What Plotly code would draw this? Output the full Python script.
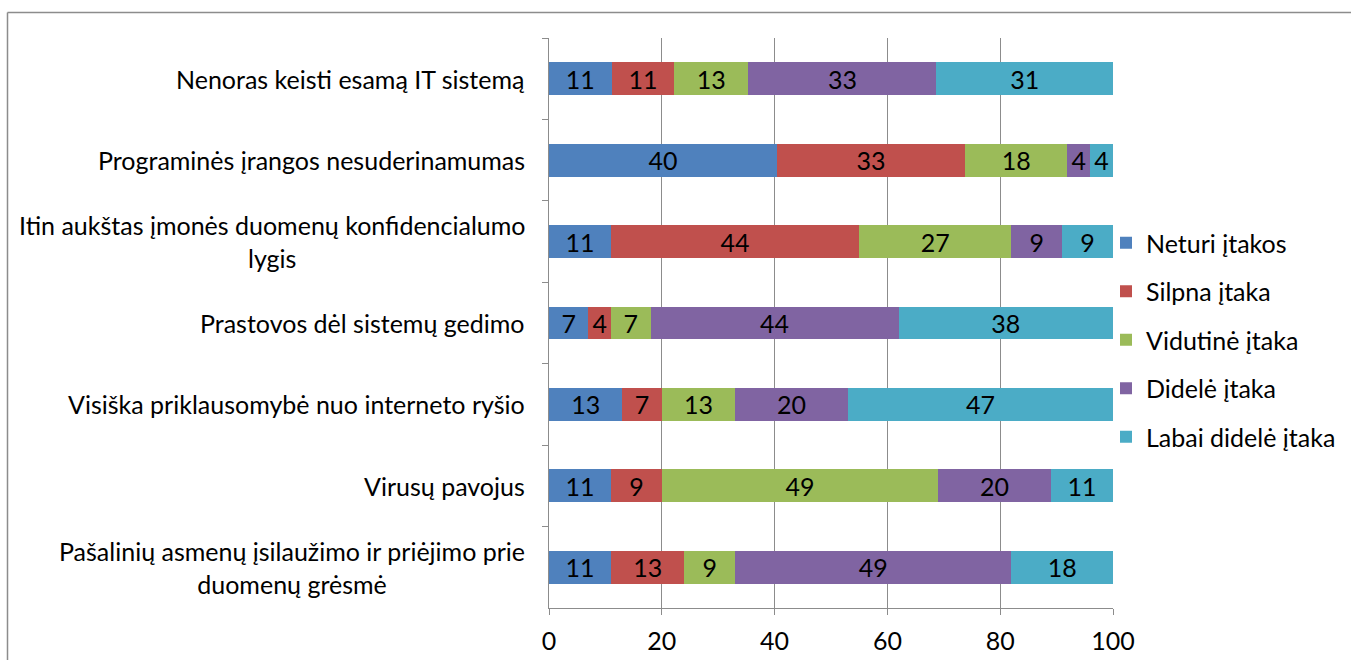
import plotly.graph_objects as go

# Survey factors (top to bottom) and the share of answers per impact level
categories = [
    "Nenoras keisti esamą IT sistemą",
    "Programinės įrangos nesuderinamumas",
    "Itin aukštas įmonės duomenų konfidencialumo<br>lygis",
    "Prastovos dėl sistemų gedimo",
    "Visiška priklausomybė nuo interneto ryšio",
    "Virusų pavojus",
    "Pašalinių asmenų įsilaužimo ir priėjimo prie<br>duomenų grėsmė",
]

series_names = [
    "Neturi įtakos",
    "Silpna įtaka",
    "Vidutinė įtaka",
    "Didelė įtaka",
    "Labai didelė įtaka",
]

neturi_itakos = [11, 40, 11, 7, 13, 11, 11]
silpna_itaka = [11, 33, 44, 4, 7, 9, 13]
vidutine_itaka = [13, 18, 27, 7, 13, 49, 9]
didele_itaka = [33, 4, 9, 44, 20, 20, 49]
labai_didele_itaka = [31, 4, 9, 38, 47, 11, 18]

x_ticks = [0, 20, 40, 60, 80, 100]

colors = ["#4F81BD", "#C0504D", "#9BBB59", "#8064A2", "#4BACC6"]

FONT = "Lato"
FS = 25
W, H = 1351, 660
M_L, M_R, M_T, M_B = 549, 238, 38, 52

fig = go.Figure()
for name, vals, col in zip(
    series_names,
    [neturi_itakos, silpna_itaka, vidutine_itaka, didele_itaka, labai_didele_itaka],
    colors,
):
    fig.add_trace(
        go.Bar(
            y=categories,
            x=vals,
            name=name,
            orientation="h",
            marker=dict(color=col, line=dict(width=0)),
            text=[str(v) for v in vals],
            texttemplate="%{text}",
            textposition="inside",
            insidetextanchor="middle",
            textangle=0,
            constraintext="none",
            textfont=dict(family=FONT, size=FS, color="black"),
            legendgroup=name,
        )
    )

# Category labels, centred per line, placed on the category axis positions
annotations = [
    dict(
        x=0, xref="paper", y=c, yref="y",
        text=c, showarrow=False,
        xanchor="right", yanchor="middle", xshift=-22,
        align="center",
        font=dict(family=FONT, size=FS, color="black"),
    )
    for c in categories
]

# Outer chart frame (left and top edges; the rest runs off the page)
px2x = lambda px: (px - M_L) / (W - M_L - M_R)
px2y = lambda py: (H - M_B - py) / (H - M_T - M_B)
frame_line = dict(color="#8C8C8C", width=1.5)
shapes = [
    dict(type="line", xref="paper", yref="paper",
         x0=px2x(7.5), x1=px2x(7.5), y0=px2y(H + 50), y1=px2y(12.5),
         line=frame_line, layer="below"),
    dict(type="line", xref="paper", yref="paper",
         x0=px2x(7.5), x1=px2x(W + 50), y0=px2y(12.5), y1=px2y(12.5),
         line=frame_line, layer="below"),
]

fig.update_layout(
    width=W, height=H,
    margin=dict(l=M_L, r=M_R, t=M_T, b=M_B, autoexpand=False),
    barmode="stack",
    barnorm="percent",
    bargap=0.595,
    paper_bgcolor="white",
    plot_bgcolor="white",
    font=dict(family=FONT, size=FS, color="black"),
    showlegend=True,
    legend=dict(
        x=px2x(1106), xanchor="left", y=px2y(340), yanchor="middle",
        traceorder="grouped", tracegroupgap=13,
        bgcolor="rgba(0,0,0,0)",
        font=dict(family=FONT, size=FS, color="black"),
        itemwidth=30,
    ),
    annotations=annotations,
    shapes=shapes,
    xaxis=dict(
        range=[0, 100],
        tickvals=x_ticks,
        ticktext=[str(t) for t in x_ticks],
        showgrid=True, gridcolor="#8C8C8C", gridwidth=1,
        showline=True, linecolor="#8C8C8C", linewidth=1,
        ticks="outside", ticklen=6, tickcolor="#8C8C8C",
        ticklabelstandoff=5,
        zeroline=False,
        tickfont=dict(family=FONT, size=FS, color="black"),
    ),
    yaxis=dict(
        autorange="reversed",
        showticklabels=False,
        showline=True, linecolor="#8C8C8C", linewidth=1,
        ticks="outside", ticklen=6, tickcolor="#8C8C8C",
        tickson="boundaries",
        showgrid=False, zeroline=False,
    ),
)

fig.write_html("out.html")
